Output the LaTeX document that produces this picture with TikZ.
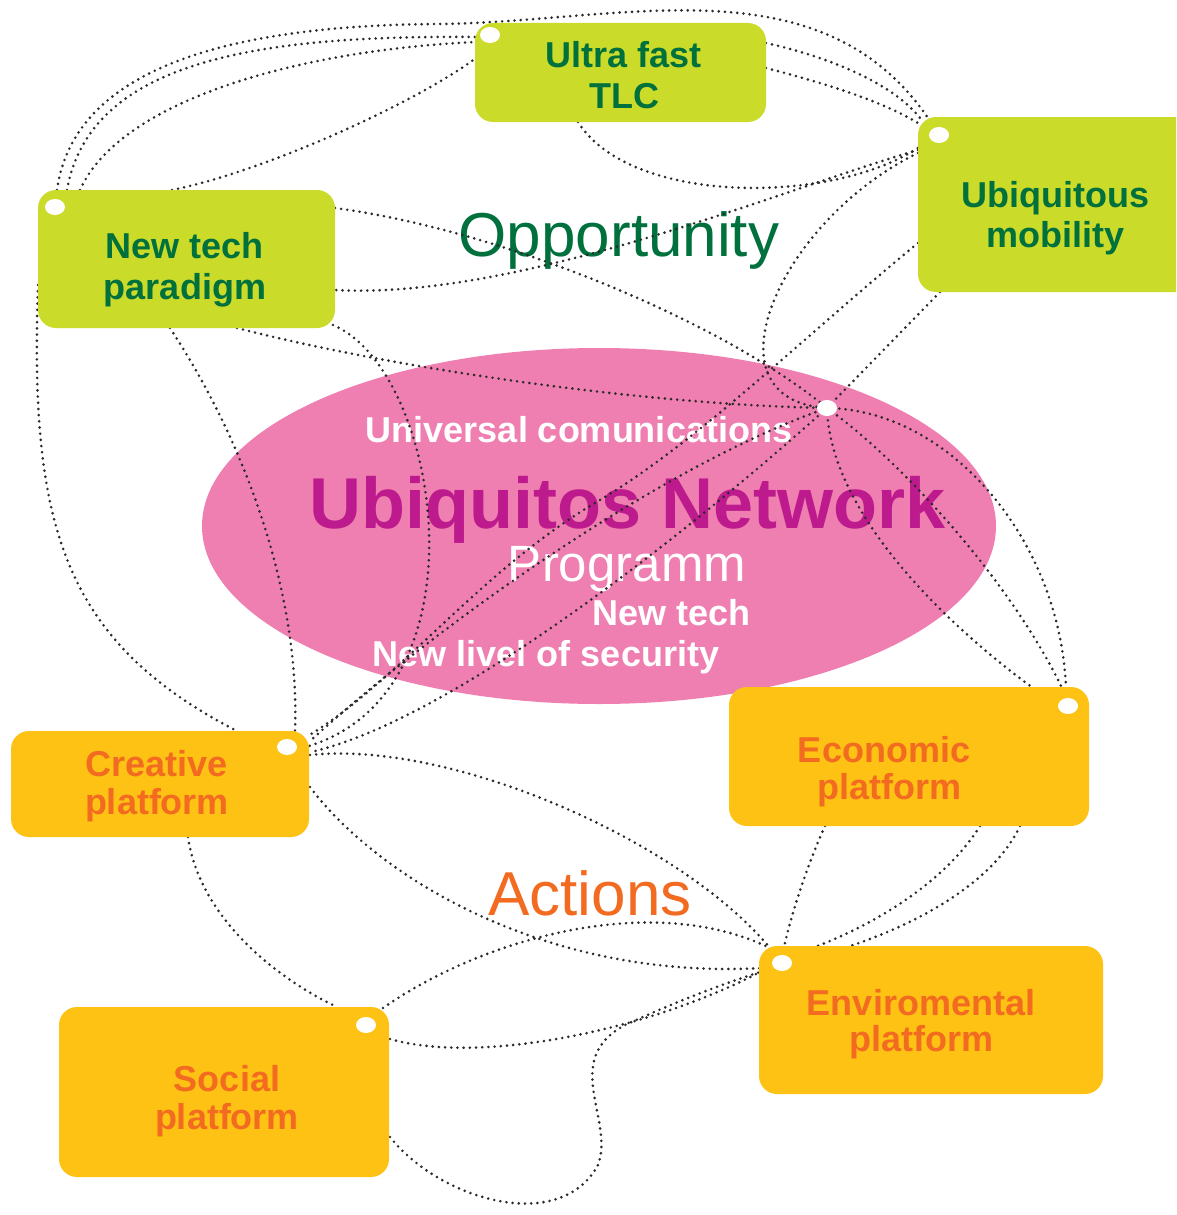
\documentclass[tikz,border=0pt]{standalone}
\usepackage{fontspec}
\setmainfont{Liberation Sans}
\usetikzlibrary{shapes.geometric}
\definecolor{lgreen}{HTML}{CBDB2A}
\definecolor{dgreen}{HTML}{00703C}
\definecolor{obox}{HTML}{FDC213}
\definecolor{otxt}{HTML}{F26B21}
\definecolor{pinkc}{HTML}{F07FB1}
\definecolor{magc}{HTML}{BD1A8D}
\definecolor{dotc}{HTML}{2A2A2A}
\begin{document}
\begin{tikzpicture}[x=1pt,y=-1pt,
  gbox/.style={fill=lgreen, rounded corners=18pt, inner sep=0pt, draw=none},
  obx/.style={fill=obox, rounded corners=18pt, inner sep=0pt, draw=none},
  link/.style={draw=dotc, line width=2.9pt, dash pattern=on 0pt off 6.2pt, line cap=round},
  hole/.style={ellipse, fill=white, minimum width=20pt, minimum height=16pt, inner sep=0pt},
  gtxt/.style={font=\fontsize{36}{40}\selectfont\bfseries, text=dgreen, anchor=base, inner sep=0pt},
  otx/.style={font=\fontsize{36}{40}\selectfont\bfseries, text=otxt, anchor=base, inner sep=0pt},
  wtxt/.style={font=\fontsize{36}{40}\selectfont\bfseries, text=white, anchor=base, inner sep=0pt}]
\useasboundingbox (0,0) rectangle (1176,1215);
\clip (0,0) rectangle (1176,1215);

% central ellipse and its texts
\node[ellipse, fill=pinkc, minimum width=794pt, minimum height=356pt, inner sep=0pt] (net) at (599,526) {};
\node[wtxt] (uc) at (579,442) {Universal comunications};
\node[font=\fontsize{72}{80}\selectfont\bfseries, text=magc, anchor=base, inner sep=0pt] (un) at (628,528) {Ubiquitos Network};
\node[font=\fontsize{51}{56}\selectfont, text=white, anchor=base, inner sep=0pt] (prog) at (627,581) {Programm};
\node[wtxt] (nt) at (672,625) {New tech};
\node[wtxt] (nls) at (546,666) {New livel of security};
\node[font=\fontsize{62}{68}\selectfont, text=dgreen, anchor=base, inner sep=0pt] (opp) at (619,256) {Opportunity};
\node[font=\fontsize{62}{68}\selectfont, text=otxt, anchor=base, inner sep=0pt] (act) at (590,915) {Actions};

% connection points
\coordinate (hub) at (827,408);
\coordinate (ntpA) at (57,190);
\coordinate (ntpB) at (67,190);
\coordinate (ntpC) at (80,190);
\coordinate (ntpD) at (172,190);
\coordinate (ntpE) at (335,208);
\coordinate (ntpF) at (335,290);
\coordinate (ntpG) at (170,328);
\coordinate (ntpH) at (237,328);
\coordinate (ntpI) at (333,325);
\coordinate (ntpJ) at (38,285);
\coordinate (tlcA) at (476,37);
\coordinate (tlcB) at (476,42);
\coordinate (tlcC) at (476,58);
\coordinate (tlcD) at (578,122);
\coordinate (tlcE) at (766,43);
\coordinate (tlcF) at (766,68);
\coordinate (umA) at (928,118);
\coordinate (umB) at (920,118);
\coordinate (umC) at (918,123);
\coordinate (umD) at (918,148);
\coordinate (umE) at (918,150);
\coordinate (umF) at (918,153);
\coordinate (umG) at (918,243);
\coordinate (umH) at (940,292);
\coordinate (crA) at (237,731);
\coordinate (crB) at (295,731);
\coordinate (crC) at (308,736);
\coordinate (crD) at (309,742);
\coordinate (crE) at (309,746);
\coordinate (crF) at (311,752);
\coordinate (crG) at (310,755);
\coordinate (crH) at (310,787);
\coordinate (crI) at (188,837);
\coordinate (ecA) at (1066,688);
\coordinate (ecB) at (1062,688);
\coordinate (ecC) at (1033,688);
\coordinate (ecD) at (825,826);
\coordinate (ecE) at (980,826);
\coordinate (ecF) at (1020,826);
\coordinate (envA) at (770,948);
\coordinate (envB) at (784,947);
\coordinate (envC) at (815,947);
\coordinate (envD) at (847,947);
\coordinate (envE) at (762,968);
\coordinate (envF) at (760,972);
\coordinate (soA) at (337,1007);
\coordinate (soB) at (383,1008);
\coordinate (soC) at (390,1039);
\coordinate (soD) at (390,1137);

% dotted connectors
\draw[link] (ntpA) .. controls (75,60) and (250,25) .. (440,24) .. controls (620,22) and (820,-40) .. (umA);
\draw[link] (ntpB) .. controls (90,60) and (260,35) .. (tlcA);
\draw[link] (ntpC) .. controls (120,100) and (300,50) .. (tlcB);
\draw[link] (ntpD) .. controls (270,170) and (420,100) .. (tlcC);
\draw[link] (tlcD) .. controls (630,205) and (830,205) .. (umD);
\draw[link] (tlcE) .. controls (820,55) and (890,80) .. (umB);
\draw[link] (tlcF) .. controls (820,82) and (880,100) .. (umC);
\draw[link] (umE) .. controls (780,190) and (520,300) .. (ntpF);
\draw[link] (umF) .. controls (780,220) and (700,400) .. (hub);
\draw[link] (umG) .. controls (800,340) and (700,440) .. (600,500) .. controls (480,570) and (400,680) .. (crC);
\draw[link] (umH) -- (hub);
\draw[link] (ntpE) .. controls (500,230) and (720,320) .. (hub);
\draw[link] (ntpG) .. controls (250,450) and (300,600) .. (crB);
\draw[link] (ntpH) .. controls (400,370) and (650,405) .. (hub);
\draw[link] (ntpI) .. controls (440,370) and (490,690) .. (crE);
\draw[link] (ntpJ) .. controls (30,520) and (60,640) .. (crA);
\draw[link] (hub) .. controls (950,410) and (1060,540) .. (ecA);
\draw[link] (hub) .. controls (900,460) and (1010,580) .. (ecB);
\draw[link] (hub) .. controls (830,510) and (940,620) .. (ecC);
\draw[link] (hub) .. controls (650,470) and (420,640) .. (crD);
\draw[link] (hub) .. controls (680,540) and (450,720) .. (crF);
\draw[link] (crG) .. controls (450,740) and (680,840) .. (envA);
\draw[link] (crH) .. controls (380,880) and (550,980) .. (envE);
\draw[link] (crI) .. controls (200,920) and (280,980) .. (soA);
\draw[link] (soB) .. controls (480,940) and (650,890) .. (envA);
\draw[link] (soC) .. controls (480,1065) and (650,1030) .. (envF);
\draw[link] (soD) .. controls (440,1200) and (560,1235) .. (598,1165) .. controls (615,1120) and (560,1060) .. (625,1025) .. controls (680,1000) and (720,985) .. (envF);
\draw[link] (ecD) .. controls (805,870) and (790,920) .. (envB);
\draw[link] (ecE) .. controls (940,890) and (860,930) .. (envC);
\draw[link] (ecF) .. controls (990,890) and (900,930) .. (envD);

% boxes
\node[gbox, minimum width=291pt, minimum height=99pt] (tlc) at (620.5,72.5) {};
\node[gbox, minimum width=290pt, minimum height=175pt] (um) at (1063,204.5) {};
\node[gbox, minimum width=297pt, minimum height=138pt] (ntp) at (186.5,259) {};
\node[obx, minimum width=298pt, minimum height=106pt] (cr) at (160,784) {};
\node[obx, minimum width=360pt, minimum height=139pt] (ec) at (909,756.5) {};
\node[obx, minimum width=344pt, minimum height=148pt] (env) at (931,1020) {};
\node[obx, minimum width=330pt, minimum height=170pt] (so) at (224,1092) {};

% box texts
\node[gtxt] (tlc1) at (624,67) {Ultra fast};
\node[gtxt] (tlc2) at (624,108) {TLC};
\node[gtxt] (ntp1) at (185,258) {New tech};
\node[gtxt] (ntp2) at (185,299) {paradigm};
\node[gtxt] (um1) at (1055,207) {Ubiquitous};
\node[gtxt] (um2) at (1055,247) {mobility};
\node[otx] (cr1) at (157,776) {Creative};
\node[otx] (cr2) at (157,814) {platform};
\node[otx] (ec1) at (884,762) {Economic};
\node[otx] (ec2) at (889,799) {platform};
\node[otx] (env1) at (921,1015) {Enviromental};
\node[otx] (env2) at (921,1051) {platform};
\node[otx] (so1) at (227,1091) {Social};
\node[otx] (so2) at (227,1129) {platform};

% white holes
\node[hole] (h1) at (490,35) {};
\node[hole] (h2) at (939,135) {};
\node[hole] (h3) at (55,207) {};
\node[hole] (h4) at (hub) {};
\node[hole] (h5) at (287,747) {};
\node[hole] (h6) at (1068,706) {};
\node[hole] (h7) at (782,963) {};
\node[hole] (h8) at (366,1025) {};
\end{tikzpicture}
\end{document}
